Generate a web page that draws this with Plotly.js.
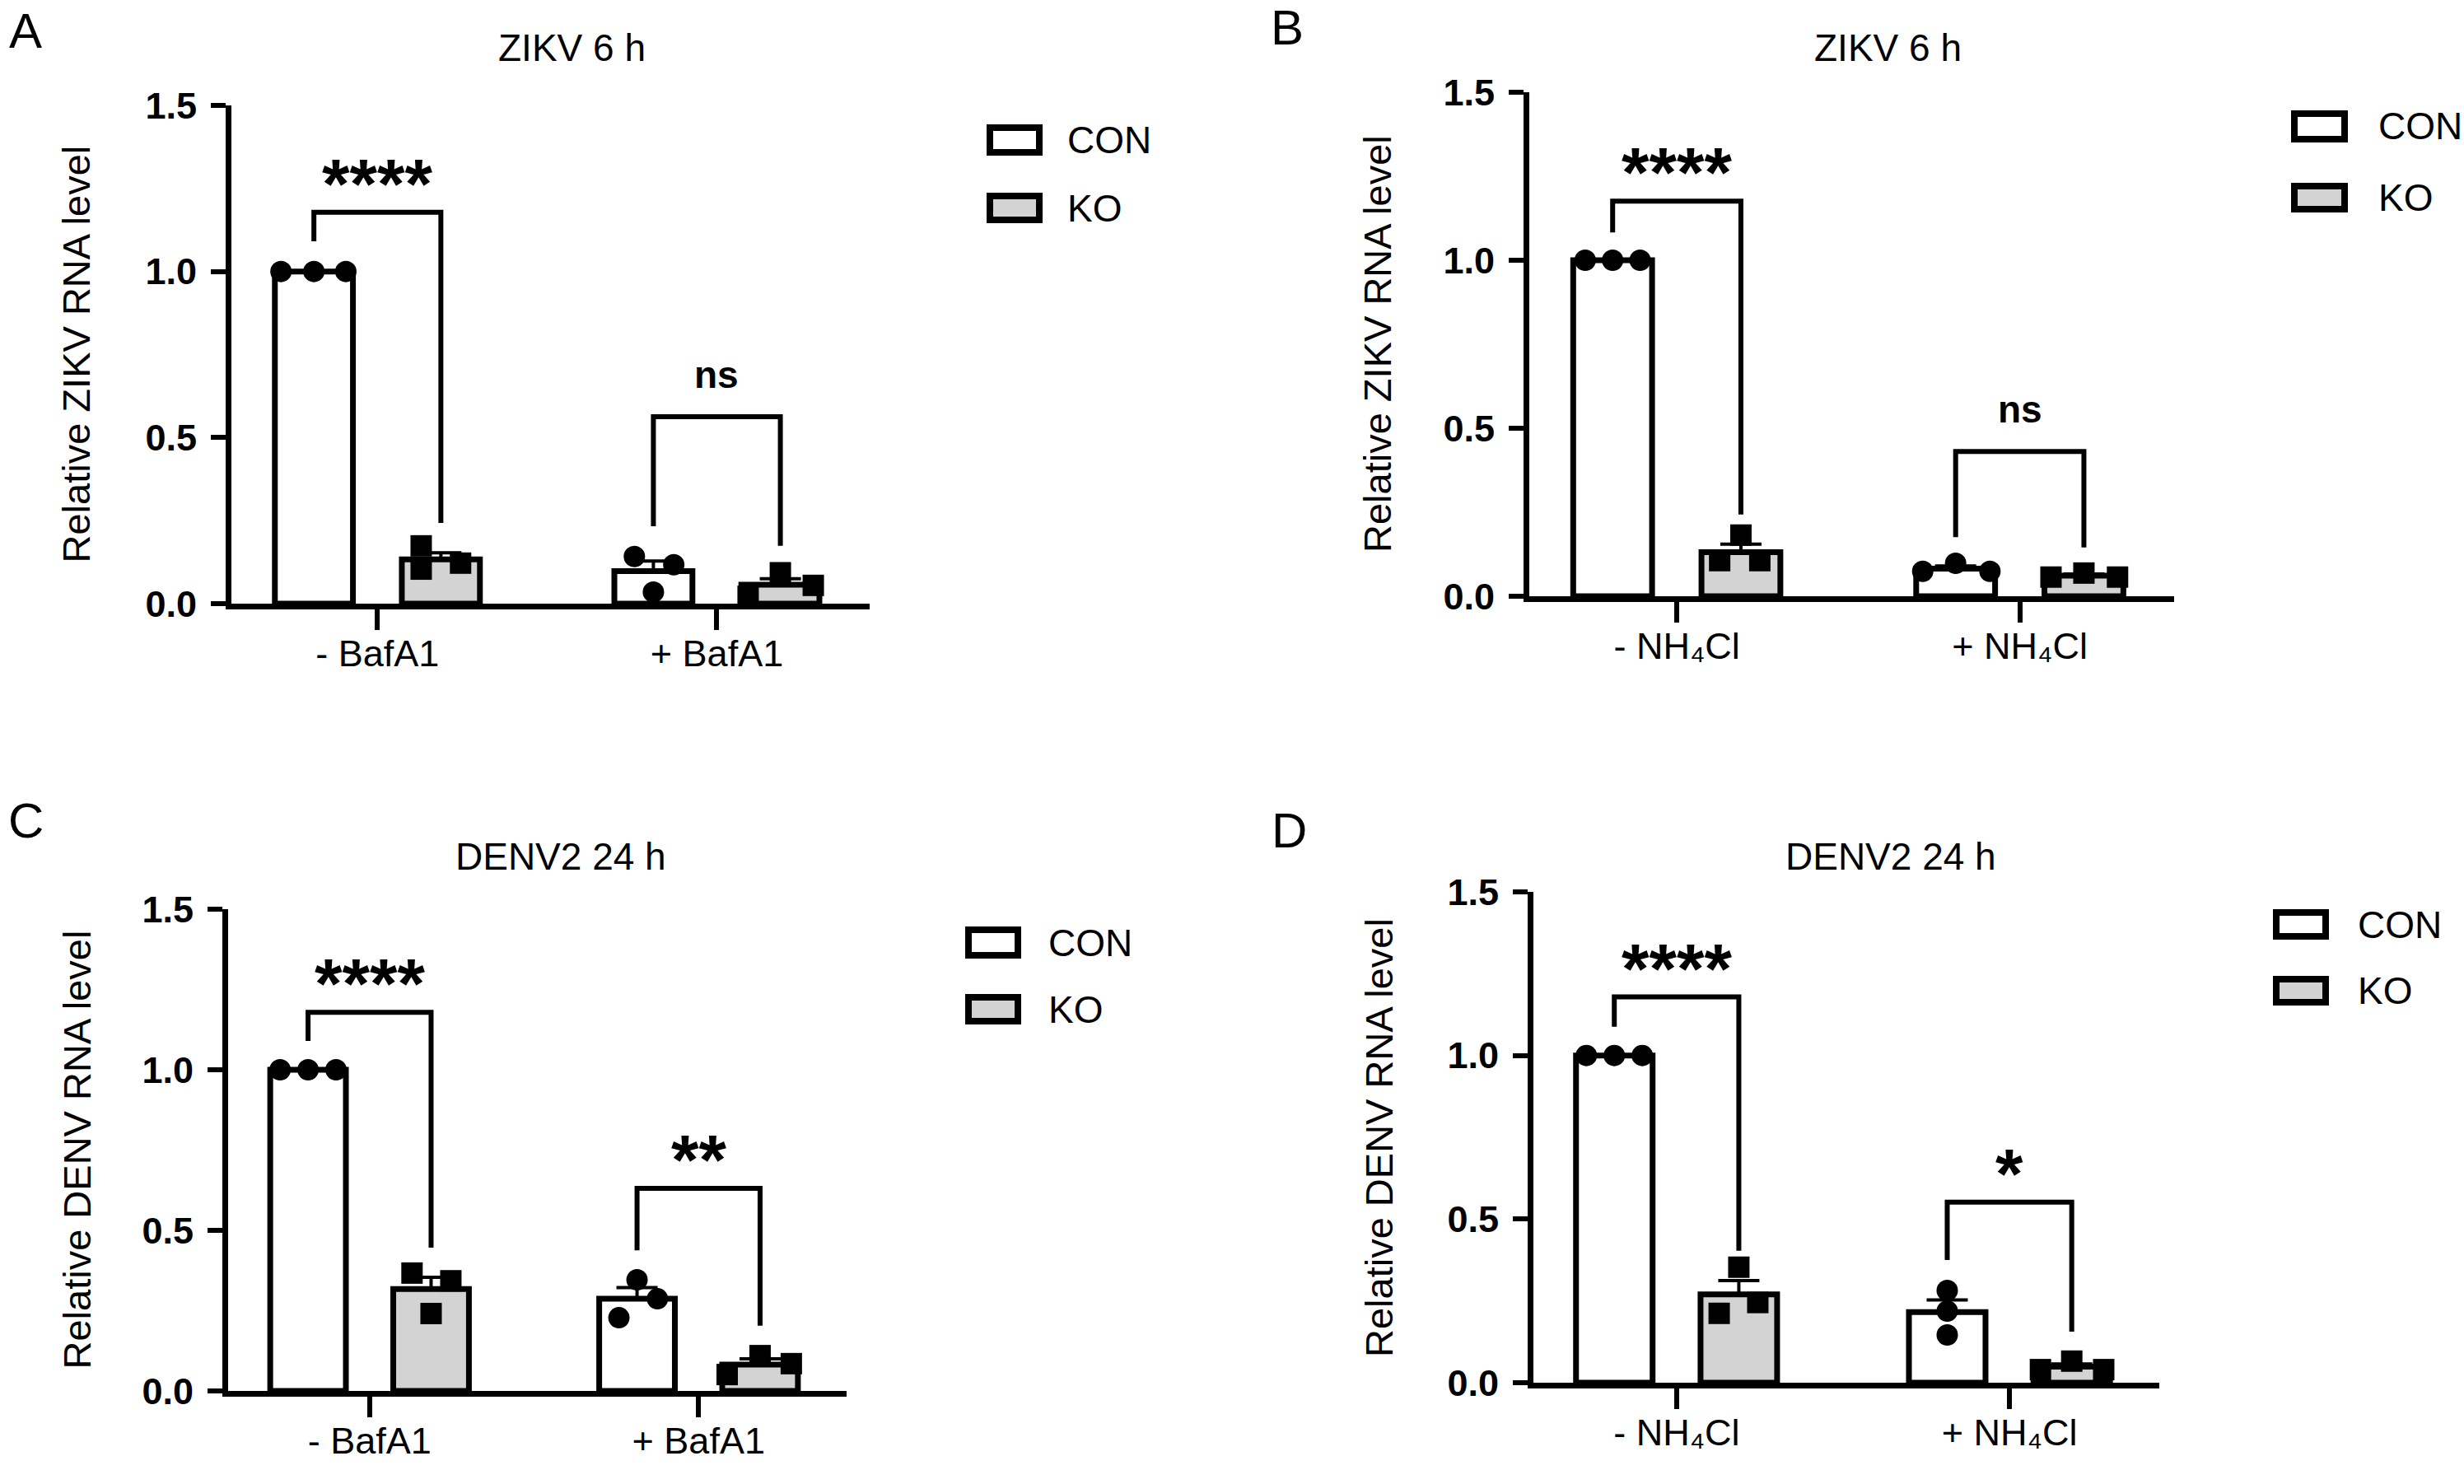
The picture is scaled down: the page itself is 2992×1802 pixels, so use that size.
<!DOCTYPE html>
<html><head><meta charset="utf-8">
<script src="https://cdn.plot.ly/plotly-3.0.1.min.js"></script>
<style>html,body{margin:0;padding:0;background:#fff;}#chart{width:2992px;height:1802px;}</style>
</head><body><div id="chart"></div>
<script>
// ---------------- DATA ----------------
const seriesNames = ['CON', 'KO'];
const panelLetters = ['A', 'B', 'C', 'D'];
const panelTitles = ['ZIKV 6 h', 'ZIKV 6 h', 'DENV2 24 h', 'DENV2 24 h'];
const yTitles = ['Relative ZIKV RNA level', 'Relative ZIKV RNA level', 'Relative DENV RNA level', 'Relative DENV RNA level'];
const catsBafA1 = ['- BafA1', '+ BafA1'];
const catsNH4Cl = ['- NH\u2084Cl', '+ NH\u2084Cl'];
const yTickVals = [0, 0.5, 1.0, 1.5];
const yTickText = ['0.0', '0.5', '1.0', '1.5'];

// Panel A  (ZIKV 6 h, BafA1)
const A_CON_mean = [1.00, 0.098], A_CON_sem = [0.0, 0.030];
const A_KO_mean  = [0.133, 0.057], A_KO_sem = [0.020, 0.018];
const A_CON_pts1 = [1.00, 1.00, 1.00], A_CON_pts2 = [0.142, 0.117, 0.035];
const A_KO_pts1  = [0.174, 0.104, 0.122], A_KO_pts2 = [0.022, 0.093, 0.055];
const A_sig = ['****', 'ns'];
const A_brTop = [1.178, 0.563], A_brLeft = [1.091, 0.233], A_brRight = [0.243, 0.174];

// Panel B  (ZIKV 6 h, NH4Cl)
const B_CON_mean = [1.00, 0.082], B_CON_sem = [0.0, 0.008];
const B_KO_mean  = [0.131, 0.061], B_KO_sem = [0.024, 0.005];
const B_CON_pts1 = [1.00, 1.00, 1.00], B_CON_pts2 = [0.074, 0.098, 0.074];
const B_KO_pts1  = [0.182, 0.106, 0.106], B_KO_pts2 = [0.057, 0.069, 0.057];
const B_sig = ['****', 'ns'];
const B_brTop = [1.176, 0.431], B_brLeft = [1.083, 0.176], B_brRight = [0.243, 0.145];

// Panel C  (DENV2 24 h, BafA1)
const C_CON_mean = [1.00, 0.287], C_CON_sem = [0.0, 0.035];
const C_KO_mean  = [0.317, 0.082], C_KO_sem = [0.037, 0.018];
const C_CON_pts1 = [1.00, 1.00, 1.00], C_CON_pts2 = [0.346, 0.287, 0.228];
const C_KO_pts1  = [0.367, 0.343, 0.241], C_KO_pts2 = [0.051, 0.110, 0.085];
const C_sig = ['****', '**'];
const C_brTop = [1.179, 0.631], C_brLeft = [1.090, 0.438], C_brRight = [0.446, 0.203];

// Panel D  (DENV2 24 h, NH4Cl)
const D_CON_mean = [1.00, 0.216], D_CON_sem = [0.0, 0.037];
const D_KO_mean  = [0.270, 0.049], D_KO_sem = [0.042, 0.008];
const D_CON_pts1 = [1.00, 1.00, 1.00], D_CON_pts2 = [0.282, 0.219, 0.146];
const D_KO_pts1  = [0.353, 0.212, 0.245], D_KO_pts2 = [0.040, 0.066, 0.040];
const D_sig = ['****', '*'];
const D_brTop = [1.179, 0.552], D_brLeft = [1.088, 0.375], D_brRight = [0.403, 0.156];

// ------------- point spread (horizontal placement of replicate dots, category units) -------------
const A_jit = {CON: [[-0.097, 0, 0.094], [-0.056, 0.060, 0]], KO: [[-0.058, -0.058, 0.058], [-0.095, 0, 0.097]]};
const B_jit = {CON: [[-0.080, 0, 0.080], [-0.096, 0, 0.100]], KO: [[0, -0.062, 0.055], [-0.096, 0, 0.098]]};
const C_jit = {CON: [[-0.085, 0, 0.085], [0, 0.062, -0.055]], KO: [[-0.058, 0.060, 0], [-0.100, 0, 0.095]]};
const D_jit = {CON: [[-0.084, 0, 0.084], [0, 0, 0]], KO: [[0, -0.059, 0.057], [-0.094, 0, 0.096]]};

// ---------------- LAYOUT CONSTANTS ----------------
const W = 2992, H = 1802;
const FONT = 'Liberation Sans, Arial, Helvetica, sans-serif';
const px = v => v / W, py = v => 1 - v / H;
const PLOT_PX = [
  {l: 281, r: 1056, t: 128, b: 733},
  {l: 1857, r: 2640, t: 112, b: 724},
  {l: 277, r: 1028, t: 1104, b: 1689},
  {l: 1862, r: 2622, t: 1083, b: 1679}
];
const LETTER_PX = [[31, 37], [1563, 34], [31, 997], [1565, 1008]];
const TITLE_PX = [[694, 58], [2292, 58], [681, 1040], [2296, 1040]];
const YTITLE_X = [92, 1672, 93, 1674];
const LEGEND_PX = [
  {x0: 1202, x1: 1262, con: [155, 185], ko: [238, 267], tx: 1294},
  {x0: 2786, x1: 2847, con: [138, 169], ko: [226, 254], tx: 2886},
  {x0: 1176, x1: 1236, con: [1129, 1160], ko: [1211, 1240], tx: 1271},
  {x0: 2764, x1: 2824, con: [1108, 1137], ko: [1189, 1217], tx: 2861}
];
const XRANGE = [-0.43, 1.45];
const OFFSET = {CON: -0.187, KO: 0.187};
const BAR_W = 0.23;
const FILL = {CON: '#ffffff', KO: '#d3d3d3'};
const SYMBOL = {CON: 'circle', KO: 'square'};

const panels = [
  {cats: catsBafA1, mean: {CON: A_CON_mean, KO: A_KO_mean}, sem: {CON: A_CON_sem, KO: A_KO_sem},
   pts: {CON: [A_CON_pts1, A_CON_pts2], KO: [A_KO_pts1, A_KO_pts2]}, jit: A_jit,
   sig: A_sig, brTop: A_brTop, brLeft: A_brLeft, brRight: A_brRight},
  {cats: catsNH4Cl, mean: {CON: B_CON_mean, KO: B_KO_mean}, sem: {CON: B_CON_sem, KO: B_KO_sem},
   pts: {CON: [B_CON_pts1, B_CON_pts2], KO: [B_KO_pts1, B_KO_pts2]}, jit: B_jit,
   sig: B_sig, brTop: B_brTop, brLeft: B_brLeft, brRight: B_brRight},
  {cats: catsBafA1, mean: {CON: C_CON_mean, KO: C_KO_mean}, sem: {CON: C_CON_sem, KO: C_KO_sem},
   pts: {CON: [C_CON_pts1, C_CON_pts2], KO: [C_KO_pts1, C_KO_pts2]}, jit: C_jit,
   sig: C_sig, brTop: C_brTop, brLeft: C_brLeft, brRight: C_brRight},
  {cats: catsNH4Cl, mean: {CON: D_CON_mean, KO: D_KO_mean}, sem: {CON: D_CON_sem, KO: D_KO_sem},
   pts: {CON: [D_CON_pts1, D_CON_pts2], KO: [D_KO_pts1, D_KO_pts2]}, jit: D_jit,
   sig: D_sig, brTop: D_brTop, brLeft: D_brLeft, brRight: D_brRight}
];

const traces = [], shapes = [], annotations = [];
const layout = {
  width: W, height: H, margin: {l: 0, r: 0, t: 0, b: 0},
  paper_bgcolor: '#fff', plot_bgcolor: 'rgba(0,0,0,0)',
  showlegend: false, barmode: 'overlay', font: {family: FONT, color: '#000'}
};

panels.forEach((p, i) => {
  const n = i === 0 ? '' : String(i + 1);
  const xa = 'x' + n, ya = 'y' + n;
  const P = PLOT_PX[i];
  layout['xaxis' + n] = {
    domain: [px(P.l), px(P.r)], range: XRANGE, anchor: ya,
    showgrid: false, zeroline: false, showline: true, linecolor: '#000', linewidth: 7,
    ticks: 'outside', ticklen: 25, tickwidth: 6, tickcolor: '#000',
    tickvals: p.cats.map((c, k) => k), ticktext: p.cats, ticklabelstandoff: -10,
    tickfont: {family: FONT, size: 45, color: '#000'}, fixedrange: true
  };
  layout['yaxis' + n] = {
    domain: [py(P.b), py(P.t)], range: [0, 1.5], anchor: xa,
    showgrid: false, zeroline: false, showline: true, linecolor: '#000', linewidth: 7,
    ticks: 'outside', ticklen: 18, tickwidth: 6, tickcolor: '#000',
    tickvals: yTickVals, ticktext: yTickText, ticklabelstandoff: 8,
    tickfont: {family: FONT, size: 45, color: '#000', weight: 'bold'}, fixedrange: true
  };

  seriesNames.forEach(s => {
    const xs = p.cats.map((c, k) => k + OFFSET[s]);
    traces.push({
      type: 'bar', x: xs, y: p.mean[s], width: BAR_W, xaxis: xa, yaxis: ya, name: s,
      marker: {color: FILL[s], line: {color: '#000', width: 7}},
      error_y: {type: 'data', symmetric: false, array: p.sem[s], arrayminus: p.sem[s].map(() => 0),
                color: '#000', thickness: 4, width: 25},
      hoverinfo: 'skip'
    });
  });
  seriesNames.forEach(s => {
    const xs = [], ys = [];
    p.pts[s].forEach((grp, k) => grp.forEach((v, j) => {
      xs.push(k + OFFSET[s] + p.jit[s][k][j]); ys.push(v);
    }));
    traces.push({
      type: 'scatter', mode: 'markers', x: xs, y: ys, xaxis: xa, yaxis: ya, cliponaxis: false,
      marker: {color: '#000', size: 26, symbol: SYMBOL[s], line: {width: 0}}, hoverinfo: 'skip'
    });
  });

  // significance brackets
  p.sig.forEach((label, k) => {
    const xl = k + OFFSET.CON, xr = k + OFFSET.KO;
    shapes.push({type: 'path', xref: xa, yref: ya,
      path: `M ${xl},${p.brLeft[k]} L ${xl},${p.brTop[k]} L ${xr},${p.brTop[k]} L ${xr},${p.brRight[k]}`,
      line: {color: '#000', width: 6}});
    const isStar = label.indexOf('*') >= 0;
    annotations.push({xref: xa, yref: ya, x: k, y: p.brTop[k], showarrow: false,
      text: label, xanchor: 'center', yanchor: 'middle', yshift: isStar ? 35 : 51,
      font: {family: FONT, size: isStar ? 86 : 46, color: '#000', weight: 'bold'}});
  });

  // titles, letters, y titles
  annotations.push({xref: 'paper', yref: 'paper', x: px(LETTER_PX[i][0]), y: py(LETTER_PX[i][1]),
    text: panelLetters[i], showarrow: false, xanchor: 'center', yanchor: 'middle',
    font: {family: FONT, size: 60, color: '#000'}});
  annotations.push({xref: 'paper', yref: 'paper', x: px(TITLE_PX[i][0]), y: py(TITLE_PX[i][1]),
    text: panelTitles[i], showarrow: false, xanchor: 'center', yanchor: 'middle',
    font: {family: FONT, size: 46, color: '#000'}});
  annotations.push({xref: 'paper', yref: 'paper', x: px(YTITLE_X[i]), y: py((P.t + P.b) / 2),
    text: yTitles[i], showarrow: false, textangle: -90, xanchor: 'center', yanchor: 'middle',
    font: {family: FONT, size: 47, color: '#000'}});

  // legend
  const L = LEGEND_PX[i];
  seriesNames.forEach(s => {
    const yy = s === 'CON' ? L.con : L.ko;
    shapes.push({type: 'rect', xref: 'paper', yref: 'paper',
      x0: px(L.x0), x1: px(L.x1), y0: py(yy[1]), y1: py(yy[0]),
      fillcolor: FILL[s], line: {color: '#000', width: 8}});
    annotations.push({xref: 'paper', yref: 'paper', x: px(L.tx), y: py((yy[0] + yy[1]) / 2),
      text: s, showarrow: false, xanchor: 'left', yanchor: 'middle',
      font: {family: FONT, size: 46, color: '#000'}});
  });
});

layout.shapes = shapes;
layout.annotations = annotations;
Plotly.newPlot('chart', traces, layout, {displayModeBar: false, staticPlot: true});
</script></body></html>
